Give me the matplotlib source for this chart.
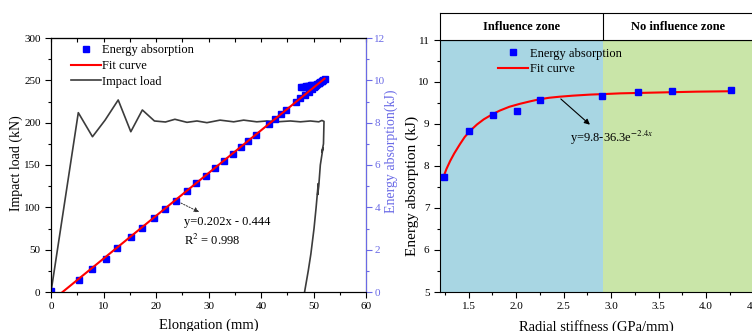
import matplotlib

matplotlib.use("Agg")
import matplotlib.pyplot as plt
from matplotlib.lines import Line2D
from matplotlib.ticker import MultipleLocator

plt.rcParams["font.family"] = ["Liberation Serif", "DejaVu Serif"]
plt.rcParams["mathtext.fontset"] = "stix"

# ---- left panel: impact load + energy absorption vs elongation ----
load_x = [0, 5.2, 7.9, 10.3, 12.8, 15.2, 17.4, 19.7, 21.8, 23.6, 25.9, 27.8, 29.7,
          32.2, 34.8, 36.7, 39.2, 41.1, 43.0, 45.6, 47.5, 49.4, 51.0, 51.6, 52.0,
          51.9, 51.6, 51.8, 51.3, 51.0, 50.8, 50.9, 50.5, 50.1, 49.5, 49.0, 48.3]
load_kn = [0, 211.8, 183.4, 203, 226.8, 189.3, 215, 202, 200.8, 204, 200.4, 202, 200,
           203, 201, 203, 201, 202, 201, 202, 201, 202, 201, 202.6, 201.5,
           175, 165, 170, 150, 125, 115, 128, 100, 75, 45, 25, 0]

energy_x = [0, 5.3, 7.8, 10.5, 12.6, 15.2, 17.4, 19.6, 21.8, 23.8, 25.9, 27.7, 29.5,
            31.3, 32.9, 34.6, 36.1, 37.5, 39.0, 41.6, 42.7, 43.9, 44.7, 46.6, 47.5,
            48.3, 49.1, 49.7, 50.3, 51.0, 51.6,
            47.7, 48.0, 48.3, 48.6, 48.9, 49.2, 49.5, 49.8,
            50.1, 50.4, 50.7, 51.0, 51.3, 51.6, 51.9, 52.1]
energy_kj = [0.05, 0.55, 1.09, 1.58, 2.07, 2.59, 3.03, 3.49, 3.93, 4.32, 4.75, 5.13, 5.49,
             5.85, 6.17, 6.51, 6.83, 7.13, 7.41, 7.95, 8.19, 8.41, 8.61, 8.99, 9.15,
             9.31, 9.46, 9.59, 9.72, 9.86, 9.98,
             9.68, 9.69, 9.70, 9.71, 9.72, 9.74, 9.76, 9.79,
             9.70, 9.76, 9.82, 9.86, 9.92, 9.98, 10.02, 10.05]

fit_left_x = [2.2, 52.1]
fit_left_kj = [0.0, 10.08]

# ---- right panel: energy absorption vs radial stiffness ----
stiff = [1.237, 1.507, 1.76, 2.01, 2.25, 2.90, 3.28, 3.64, 4.26]
stiff_energy = [7.745, 8.84, 9.21, 9.32, 9.56, 9.67, 9.77, 9.79, 9.80]

fit_right_x = [1.237, 1.27, 1.307, 1.35, 1.41, 1.46, 1.518, 1.59, 1.66, 1.75, 1.83,
               1.93, 2.04, 2.15, 2.25, 2.35, 2.46, 2.6, 2.78, 2.95, 3.10, 3.3, 3.5,
               3.9, 4.26]
fit_right_y = [7.745, 7.94, 8.12, 8.30, 8.52, 8.69, 8.84, 8.99, 9.11, 9.23, 9.32,
               9.41, 9.48, 9.54, 9.59, 9.625, 9.65, 9.675, 9.70, 9.715, 9.73, 9.74,
               9.75, 9.77, 9.78]

zone_split = 2.92
zone_names = ["Influence zone", "No influence zone"]

BLUE_AX = "#6a6ae6"
LOAD_C = "#3c3c3c"

fig = plt.figure(figsize=(7.52, 3.31), dpi=100)

# left panel
ax1 = fig.add_axes([51 / 752, 39 / 331, 315 / 752, 254 / 331])
ax1.plot(load_x, load_kn, color=LOAD_C, lw=1.2)
ax1.set_xlim(0, 60)
ax1.set_ylim(0, 300)
ax1.xaxis.set_major_locator(MultipleLocator(10))
ax1.xaxis.set_minor_locator(MultipleLocator(5))
ax1.yaxis.set_major_locator(MultipleLocator(50))
ax1.yaxis.set_minor_locator(MultipleLocator(25))
ax1.tick_params(which="both", direction="out", labelsize=8, width=0.8)
ax1.tick_params(which="major", length=4)
ax1.tick_params(which="minor", length=2.5)
ax1.set_xlabel("Elongation (mm)", fontsize=10.5)
ax1.set_ylabel("Impact load (kN)", fontsize=10)
ax1.xaxis.set_label_coords(0.5, -0.105)
ax1.yaxis.set_label_coords(-0.09, 0.508)
top = ax1.secondary_xaxis("top")
top.xaxis.set_major_locator(MultipleLocator(5))
top.tick_params(direction="in", length=3, labeltop=False, width=0.8)

ax2 = ax1.twinx()
ax2.plot(energy_x, energy_kj, "s", color="#0000ff", ms=4.3, ls="none")
ax2.plot(fit_left_x, fit_left_kj, color="#ff0000", lw=1.5)
ax2.set_ylim(0, 12)
ax2.yaxis.set_major_locator(MultipleLocator(2))
ax2.yaxis.set_minor_locator(MultipleLocator(1))
ax2.spines["right"].set_color(BLUE_AX)
ax2.tick_params(axis="y", which="both", colors=BLUE_AX, labelsize=8, width=0.8,
                pad=2)
ax2.tick_params(axis="y", which="major", length=4)
ax2.tick_params(axis="y", which="minor", length=2.5)
ax2.set_ylabel("Energy absorption(kJ)", color=BLUE_AX, fontsize=10)
ax2.yaxis.set_label_coords(1.058, 0.555)

ax1.annotate("", xy=(28.7, 93), xytext=(23.3, 109.5),
             arrowprops=dict(arrowstyle="-|>", color="#333333", lw=0.7,
                             ls=(0, (1.5, 1.5)), mutation_scale=7))
ax1.text(25.3, 82.7, "y=0.202x - 0.444", fontsize=9, va="center")
ax1.text(25.3, 61.4, "R$^{2}$ = 0.998", fontsize=9, va="center")

handles_l = [
    Line2D([], [], marker="s", color="#0000ff", ls="none", ms=4.3),
    Line2D([], [], color="#ff0000", lw=1.5),
    Line2D([], [], color=LOAD_C, lw=1.2),
]
ax2.legend(handles_l, ["Energy absorption", "Fit curve", "Impact load"],
           loc="upper left", bbox_to_anchor=(0.062, 0.975), frameon=False,
           fontsize=9, handlelength=2.4, handletextpad=0.15,
           labelspacing=0.3, borderpad=0, borderaxespad=0)

# right panel
x0, x1 = 1.2, 4.5
ax3 = fig.add_axes([440 / 752, 39 / 331, 313.5 / 752, 252 / 331])
ax3.axvspan(x0, zone_split, color="#a8d6e3", lw=0, zorder=0)
ax3.axvspan(zone_split, x1, color="#c9e5a8", lw=0, zorder=0)
ax3.plot(fit_right_x, fit_right_y, color="#ff0000", lw=1.5, zorder=2)
ax3.plot(stiff, stiff_energy, "s", color="#0000ff", ms=4.3, ls="none", zorder=3)
ax3.set_xlim(x0, x1)
ax3.set_ylim(5, 11)
ax3.xaxis.set_major_locator(MultipleLocator(0.5))
ax3.xaxis.set_minor_locator(MultipleLocator(0.25))
ax3.yaxis.set_major_locator(MultipleLocator(1))
ax3.yaxis.set_minor_locator(MultipleLocator(0.5))
ax3.tick_params(which="both", direction="out", labelsize=8, width=0.8)
ax3.tick_params(which="major", length=4)
ax3.tick_params(which="minor", length=2.5)
ax3.set_xlabel("Radial stiffness (GPa/mm)", fontsize=10.5)
ax3.set_ylabel("Energy absorption (kJ)", fontsize=11)
ax3.xaxis.set_label_coords(0.5, -0.11)
ax3.yaxis.set_label_coords(-0.068, 0.42)

ax3.annotate("", xy=(2.80, 8.94), xytext=(2.45, 9.64),
             arrowprops=dict(arrowstyle="-|>", color="black", lw=0.8,
                             mutation_scale=8))
ax3.text(2.57, 8.66, "y=9.8-36.3e$^{-2.4x}$", fontsize=9, va="center")

handles_r = [
    Line2D([], [], marker="s", color="#0000ff", ls="none", ms=4.3),
    Line2D([], [], color="#ff0000", lw=1.5),
]
ax3.legend(handles_r, ["Energy absorption", "Fit curve"],
           loc="upper left", bbox_to_anchor=(0.185, 0.97), frameon=False,
           fontsize=9, handlelength=2.4, handletextpad=0.15,
           labelspacing=0.3, borderpad=0, borderaxespad=0)

# zone header above the right panel
axh = fig.add_axes([440 / 752, 291 / 331, 313.5 / 752, 27 / 331])
axh.set_xlim(x0, x1)
axh.set_ylim(0, 1)
axh.axvline(zone_split, color="black", lw=0.8)
axh.set_xticks([])
axh.set_yticks([])
axh.text((x0 + zone_split) / 2, 0.5, zone_names[0], ha="center", va="center",
         fontsize=9, fontweight="bold")
axh.text((zone_split + x1) / 2, 0.5, zone_names[1], ha="center", va="center",
         fontsize=9, fontweight="bold")

fig.savefig("out.png", dpi=100)
